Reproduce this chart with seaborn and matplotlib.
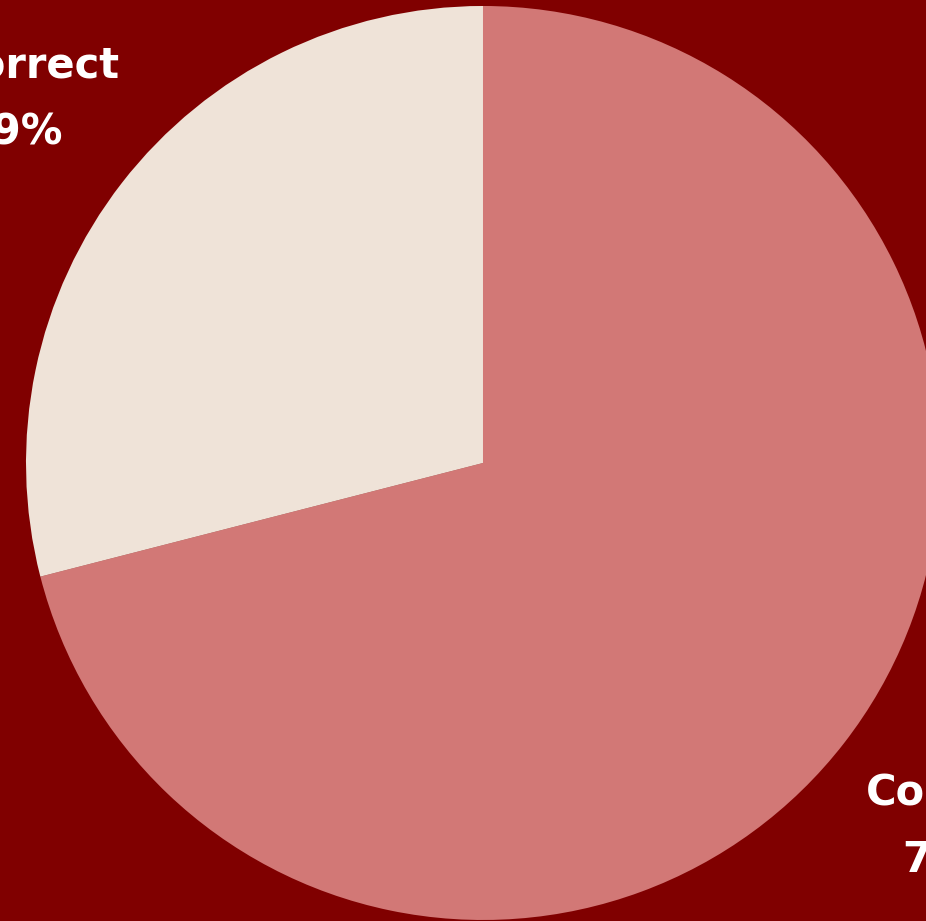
import matplotlib
matplotlib.use("Agg")
import matplotlib.pyplot as plt
import seaborn as sns

labels = ["Correct", "Incorrect"]
shares = [71, 29]
colors = ["#D27876", "#EFE3D8"]

sns.set_theme(style="white")
plt.rcParams['font.family'] = ['DejaVu Sans']

fig = plt.figure(figsize=(9.26, 9.21), dpi=100, facecolor="#800000")
ax = fig.add_axes([0, 0, 1, 1])
ax.set_facecolor("#800000")

texts = [f"{l}\n{s}%" for l, s in zip(labels, shares)]
wedges, lbls = ax.pie(shares, labels=texts, colors=colors, startangle=90,
                      counterclock=False, labeldistance=1.3,
                      wedgeprops=dict(linewidth=0),
                      textprops=dict(color="white", fontsize=30, fontweight="bold",
                                     linespacing=1.75))
for t in lbls:
    t.set_ha("center")
    t.set_va("center")
    t.set_multialignment("center")

ax.set_aspect("auto")
ax.set_xlim(-1.0569, 0.9694)
ax.set_ylim(-1.0022, 1.0131)
ax.axis("off")

fig.savefig("out.png", dpi=100, facecolor="#800000")
